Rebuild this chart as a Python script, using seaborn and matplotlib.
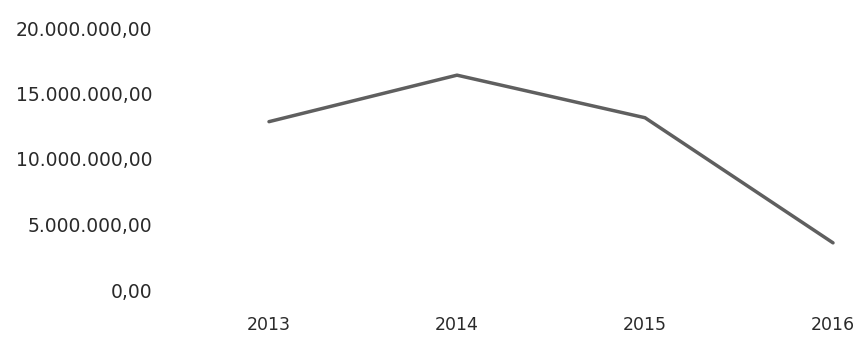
import matplotlib
matplotlib.use("Agg")
import matplotlib.pyplot as plt
import seaborn as sns
import pandas as pd
from matplotlib.ticker import FuncFormatter

# Annual totals
years = [2013, 2014, 2015, 2016]
totals = [12_850_000, 16_400_000, 13_150_000, 3_600_000]
y_ticks = [0, 5_000_000, 10_000_000, 15_000_000, 20_000_000]

df = pd.DataFrame({"year": years, "total": totals})

sns.set_style("white")
plt.rcParams["font.family"] = ["DejaVu Sans"]

fig = plt.figure(figsize=(8.54, 3.37), dpi=100)
W, H = 854, 337
ax = fig.add_axes([269 / W, 1 - 290 / H, (833 - 269) / W, (290 - 28) / H])

sns.lineplot(data=df, x="year", y="total", ax=ax, color="#5f5f5f",
             linewidth=2.5, clip_on=False)

ax.set_xlim(2013, 2016)
ax.set_ylim(0, 20_000_000)
ax.set_xticks(years)
ax.set_xticklabels([str(y) for y in years])
ax.set_yticks(y_ticks)


def fmt(v, _):
    s = f"{v:,.2f}"
    return s.replace(",", "X").replace(".", ",").replace("X", ".")


ax.yaxis.set_major_formatter(FuncFormatter(fmt))
ax.set_xlabel("")
ax.set_ylabel("")
for s in ax.spines.values():
    s.set_visible(False)
ax.tick_params(axis="y", length=0, pad=84, labelsize=13.5, labelcolor="#2a2a2a")
ax.tick_params(axis="x", length=0, pad=19, labelsize=12.5, labelcolor="#2a2a2a")
ax.grid(False)

fig.savefig("out.png", dpi=100)
